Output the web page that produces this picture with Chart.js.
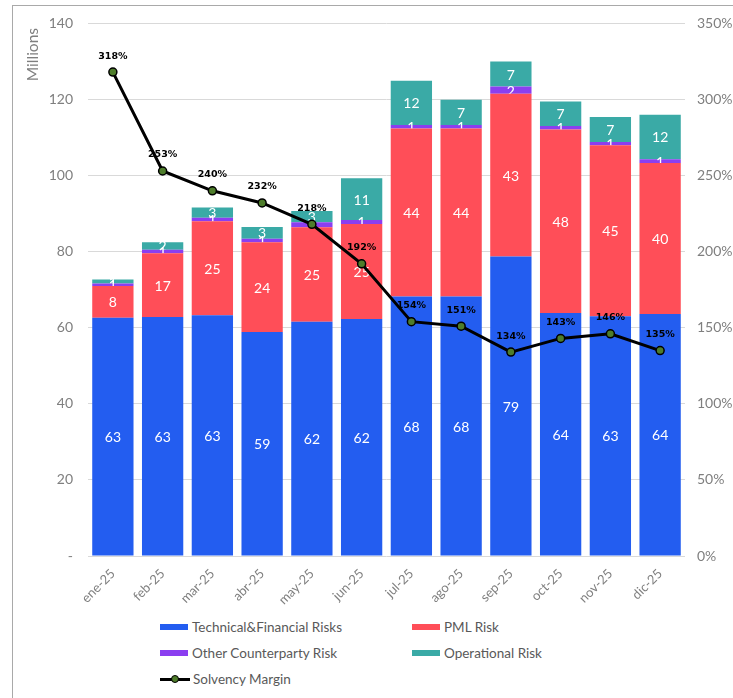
<!DOCTYPE html>
<html lang="es">
<head>
<meta charset="UTF-8">
<title>Solvency</title>
<script src="https://cdn.jsdelivr.net/npm/chart.js@4.4.1/dist/chart.umd.min.js"></script>
<style>
  html, body { margin: 0; padding: 0; background: #fff; overflow: hidden; }
  body { width: 733px; height: 698px; position: relative; font-family: Lato, sans-serif; }
  #frame { position: absolute; left: 12px; top: 5px; width: 760px; height: 740px; border: 1.5px solid #a9a9a9; box-sizing: border-box; }
  #wrap { position: absolute; left: 0; top: 0; width: 733px; height: 610px; }
  #legend { position: absolute; left: 160px; top: 614px; display: grid; grid-template-columns: 252px 220px; grid-auto-rows: 26px; }
  .item { display: flex; align-items: center; font-size: 13.5px; color: #595959; white-space: nowrap; }
  .box { width: 28px; height: 6px; margin-right: 4px; }
  .lineMark { position: relative; width: 30px; height: 10px; margin-right: 3px; }
  .lineMark::before { content: ''; position: absolute; left: 0; right: 0; top: 3.5px; height: 3px; background: #000; }
  .lineMark span { position: absolute; left: 11px; top: 1px; width: 6px; height: 6px; border-radius: 50%; background: #4e7d2b; border: 1.5px solid #000; }
</style>
</head>
<body>
<div id="frame"></div>
<div id="wrap"><canvas id="chart"></canvas></div>
<div id="legend"></div>

<script>
const months = ['ene-25','feb-25','mar-25','abr-25','may-25','jun-25','jul-25','ago-25','sep-25','oct-25','nov-25','dic-25']
// millions
const techFin = [62.6, 62.8, 63.3, 58.9, 61.6, 62.3, 68.2, 68.2, 78.7, 63.9, 63.0, 63.6]
const pmlRisk = [8.4, 16.8, 24.7, 23.6, 24.8, 25.0, 44.2, 44.2, 42.8, 48.2, 45.0, 39.7]
const otherCp = [0.6, 0.9, 0.9, 0.9, 1.3, 1.0, 0.9, 0.9, 1.9, 0.9, 0.8, 1.0]
const opRisk  = [1.1, 2.0, 2.7, 3.1, 3.0, 11.0, 11.6, 6.6, 6.6, 6.5, 6.6, 11.7]
// percent
const solvency = [318, 253, 240, 232, 218, 192, 154, 151, 134, 143, 146, 135]

const leftTicks = [0, 20, 40, 60, 80, 100, 120, 140]
const rightTicks = [0, 50, 100, 150, 200, 250, 300, 350]

const gray = '#7f7f7f'

// labels: bars right after each bar dataset (so the line sits on top), line after all
const valueLabels = {
  id: 'valueLabels',
  afterDatasetDraw(chart, args) {
    const ds = chart.data.datasets[args.index]
    if (ds.type === 'line') return
    const ctx = chart.ctx
    ctx.save()
    ctx.fillStyle = '#fff'
    ctx.font = '14px Lato'
    ctx.textAlign = 'center'
    ctx.textBaseline = 'middle'
    args.meta.data.forEach((el, j) => {
      ctx.fillText(Math.round(ds.data[j]), el.x, (el.y + el.base) / 2 + 1)
    })
    ctx.restore()
  },
  afterDatasetsDraw(chart) {
    const ctx = chart.ctx
    chart.data.datasets.forEach((ds, i) => {
      if (ds.type !== 'line') return
      const meta = chart.getDatasetMeta(i)
      ctx.save()
      ctx.fillStyle = '#000'
      ctx.font = 'bold 9.5px "DejaVu Sans"'
      ctx.textAlign = 'center'
      ctx.textBaseline = 'middle'
      meta.data.forEach((pt, j) => {
        ctx.fillText(ds.data[j] + '%', pt.x, pt.y - 16)
      })
      ctx.restore()
    })
  },
  afterDraw(chart) {
    // axis title sits near the top of the left axis
    const ctx = chart.ctx
    ctx.save()
    ctx.translate(33, 28)
    ctx.rotate(-Math.PI / 2)
    ctx.fillStyle = gray
    ctx.font = '15.5px Lato'
    ctx.textAlign = 'right'
    ctx.textBaseline = 'middle'
    ctx.fillText('Millions', 0, 0)
    ctx.restore()
  }
}

const ctx = document.getElementById('chart').getContext('2d')
const chart = new Chart(ctx, {
  data: {
    labels: months,
    datasets: [
      { type: 'line', label: 'Solvency Margin', data: solvency, yAxisID: 'y1', order: 0,
        borderColor: '#000', borderWidth: 3, pointRadius: 4, pointBorderWidth: 1.5,
        pointBackgroundColor: '#4e7d2b', pointBorderColor: '#000', tension: 0 },
      { type: 'bar', label: 'Technical&Financial Risks', data: techFin, backgroundColor: '#235df0', order: 1 },
      { type: 'bar', label: 'PML Risk', data: pmlRisk, backgroundColor: '#ff4e58', order: 1 },
      { type: 'bar', label: 'Other Counterparty Risk', data: otherCp, backgroundColor: '#8b3ef0', order: 1 },
      { type: 'bar', label: 'Operational Risk', data: opRisk, backgroundColor: '#3aaaa6', order: 1 }
    ]
  },
  options: {
    responsive: true,
    maintainAspectRatio: false,
    animation: false,
    datasets: { bar: { categoryPercentage: 1, barPercentage: 0.83 } },
    layout: { padding: { top: 22, left: 0, right: 0, bottom: 0 } },
    plugins: { legend: { display: false }, tooltip: { enabled: false } },
    scales: {
      x: {
        stacked: true,
        grid: { display: false },
        border: { display: false },
        ticks: { color: gray, font: { family: 'Lato', size: 13 }, minRotation: 45, maxRotation: 45, padding: 2 },
        afterFit(s) { s.height = 610 - 556 }
      },
      y: {
        stacked: true,
        position: 'left',
        min: 0, max: 140,
        afterBuildTicks(s) { s.ticks = leftTicks.map(v => ({ value: v })) },
        grid: { color: '#d9d9d9', drawTicks: false },
        border: { display: false },
        ticks: { color: gray, font: { family: 'Lato', size: 14 }, padding: 15,
          callback: v => v === 0 ? '-' : v },
        afterFit(s) { s.width = 88 }
      },
      y1: {
        position: 'right',
        min: 0, max: 350,
        afterBuildTicks(s) { s.ticks = rightTicks.map(v => ({ value: v })) },
        grid: { display: false, drawTicks: false },
        border: { display: false },
        ticks: { color: gray, font: { family: 'Lato', size: 14 }, padding: 12,
          callback: v => v + '%' },
        afterFit(s) { s.width = 733 - 685 }
      }
    }
  },
  plugins: [valueLabels]
})

// html legend in two columns, like the original
const legendOrder = [1, 2, 3, 4, 0]
const legend = document.getElementById('legend')
legendOrder.forEach(i => {
  const ds = chart.data.datasets[i]
  const item = document.createElement('div')
  item.className = 'item'
  const mark = document.createElement('div')
  if (ds.type === 'line') {
    mark.className = 'lineMark'
    mark.appendChild(document.createElement('span'))
  } else {
    mark.className = 'box'
    mark.style.background = ds.backgroundColor
  }
  item.appendChild(mark)
  item.appendChild(document.createTextNode(ds.label))
  legend.appendChild(item)
})
</script>
</body>
</html>
